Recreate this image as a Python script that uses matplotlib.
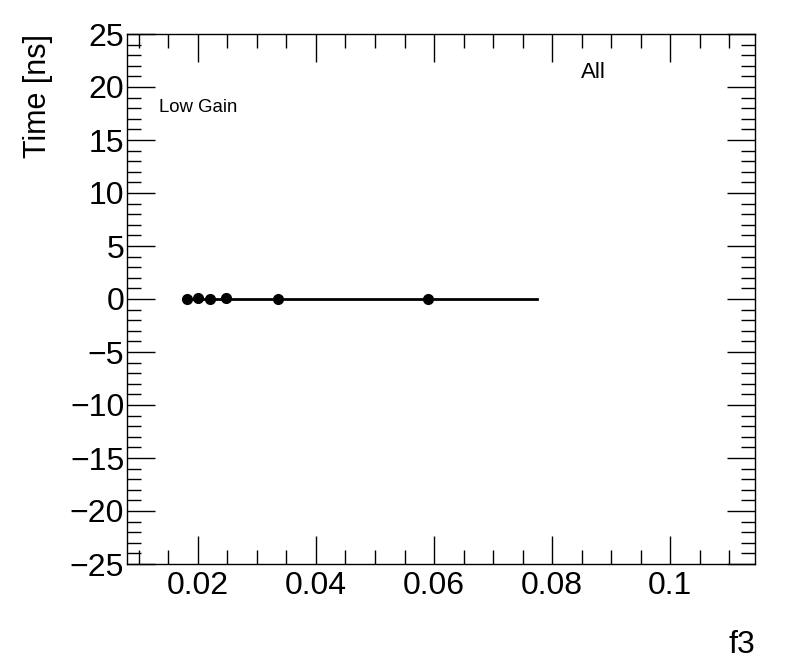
import matplotlib
matplotlib.use("Agg")
import matplotlib.pyplot as plt
from matplotlib.ticker import MultipleLocator

plt.rcParams['font.family'] = ['Liberation Sans', 'DejaVu Sans']

f3 = [0.01814, 0.02003, 0.02203, 0.02475, 0.03356, 0.05898]
time_ns = [0.0, 0.1, 0.0, 0.1, 0.0, 0.0]
fit_x = [0.01814, 0.07746]
fit_y = [0.0, 0.0]

fig = plt.figure(figsize=(7.96, 6.72), dpi=100)
ax = fig.add_axes([127/796, 1-564/672, (755-127)/796, (564-34)/672])

ax.plot(fit_x, fit_y, color='black', lw=2, zorder=2)
ax.plot(f3, time_ns, 'o', color='black', ms=7, zorder=3)

ax.set_xlim(0.00797, 0.1144)
ax.set_ylim(-25, 25)
ax.xaxis.set_major_locator(MultipleLocator(0.02))
ax.xaxis.set_minor_locator(MultipleLocator(0.005))
ax.yaxis.set_major_locator(MultipleLocator(5))
ax.yaxis.set_minor_locator(MultipleLocator(1))
ax.tick_params(which='both', direction='in', top=True, right=True, width=1, labelsize=23)
ax.tick_params(which='major', length=20)
ax.tick_params(axis='y', which='major', pad=2)
ax.tick_params(axis='x', which='major', pad=5)
ax.tick_params(which='minor', length=10)
ax.set_xticks([0.02, 0.04, 0.06, 0.08, 0.1])
ax.set_xticklabels(['0.02', '0.04', '0.06', '0.08', '0.1'])
yt = list(range(-25, 30, 5))
ax.set_yticks(yt)
ax.set_yticklabels([str(v).replace('-', '\u2212') for v in yt])
for s in ax.spines.values():
    s.set_linewidth(1)

fig.text(38/796, 1-34/672, 'Time [ns]', rotation=90, ha='center', va='top', fontsize=22)
fig.text(755/796, 1-645/672, 'f3', ha='right', va='center', fontsize=23)
ax.text(159/796, 1-108/672, 'Low Gain', transform=fig.transFigure, ha='left', va='center', fontsize=13.4)
ax.text(581/796, 1-73/672, 'All', transform=fig.transFigure, ha='left', va='center', fontsize=16)

fig.savefig('out.png', dpi=100)
